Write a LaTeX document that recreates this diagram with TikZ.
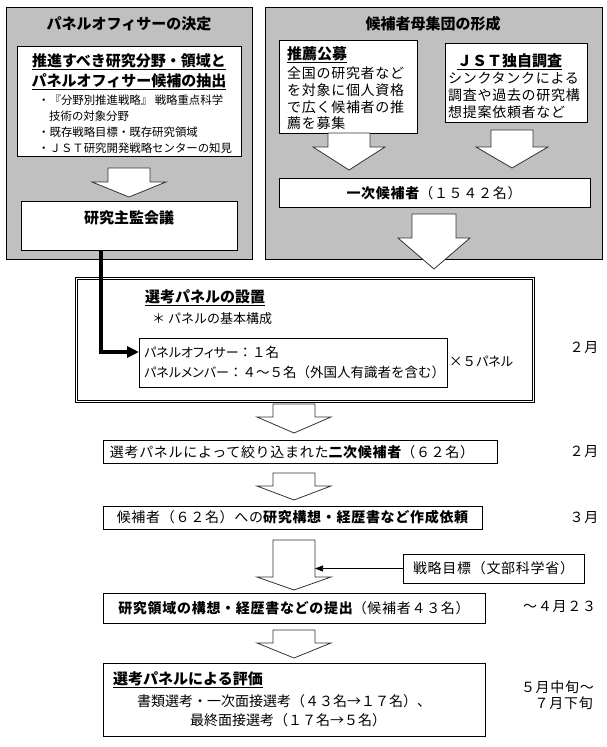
\documentclass[tikz,border=0pt]{standalone}
\usepackage{fontspec}
\setmainfont{Noto Sans CJK JP}
\usetikzlibrary{arrows.meta}
\definecolor{panelgray}{RGB}{192,192,192}
\newcommand\hollowarrow[6]{\draw[harr] (#1-#5,#2) -- (#1+#5,#2) -- (#1+#5,#3) -- (#1+#6,#3) -- (#1,#4) -- (#1-#6,#3) -- (#1-#5,#3) -- cycle;}
\newcommand\pk[1]{{\fontsize{13}{15}\selectfont\addfontfeature{RawFeature=+palt}#1}}
\tikzset{
 panel/.style={draw=black, fill=panelgray, line width=0.8pt, inner sep=0pt, outer sep=0pt},
 wbox/.style={draw=black, fill=white, line width=0.8pt, inner sep=0pt, outer sep=0pt},
 harr/.style={draw=black!80, fill=white, line width=0.8pt, line join=miter},
 txt/.style={inner sep=0pt, font=\fontsize{14}{16}\selectfont\addfontfeature{LetterSpace=5}},
 ntxt/.style={inner sep=0pt, font=\fontsize{14}{16}\selectfont},
 btxt/.style={inner sep=0pt, font=\fontsize{15}{17}\selectfont\bfseries},
 stxt/.style={inner sep=0pt, font=\fontsize{11.4}{13}\selectfont},
 ptxt/.style={inner sep=0pt, font=\fontsize{13.5}{15}\selectfont},
 conn/.style={line width=3.2pt, -{Triangle[length=12pt,width=11pt]}},
 thinconn/.style={line width=0.7pt, -{Triangle[length=8pt,width=6pt]}},
}
\begin{document}
\begin{tikzpicture}[x=1pt,y=-1pt]
\useasboundingbox (0,0) rectangle (607,747);
% left panel
\node[panel, minimum width=246, minimum height=252, anchor=north west] (lp) at (6,7) {};
\node[btxt] (lpt) at (129,24) {パネルオフィサーの決定};
\node[wbox, minimum width=224, minimum height=110, anchor=north west] (ext) at (17,46) {};
\node[btxt] (exth1) at (129,62) {\underline{推進すべき研究分野・領域と}};
\node[btxt] (exth2) at (129,82) {\underline{パネルオフィサー候補の抽出}};
\node[stxt, anchor=west] (b1) at (38,100) {・『分野別推進戦略』 戦略重点科学};
\node[stxt, anchor=west] (b1b) at (49,116) {技術の対象分野};
\node[stxt, anchor=west] (b2) at (38,132) {・既存戦略目標・既存研究領域};
\node[stxt, anchor=west] (b3) at (38,148) {・ＪＳＴ研究開発戦略センターの知見};
\hollowarrow{129}{168}{182}{197}{21}{37}
\node[wbox, minimum width=216, minimum height=49, anchor=north west] (kanshi) at (21,201) {};
\node[btxt] (kanshit) at (129,218) {研究主監会議};
% right panel
\node[panel, minimum width=337, minimum height=252, anchor=north west] (rp) at (265,7) {};
\node[btxt] (rpt) at (433,24) {候補者母集団の形成};
\node[wbox, minimum width=138, minimum height=93, anchor=north west] (suisen) at (279,40) {};
\node[btxt, anchor=west] (suisent) at (287,55) {\underline{推薦公募}};
\node[txt, anchor=west] (s1) at (287,73) {全国の研究者など};
\node[txt, anchor=west] (s2) at (287,90) {を対象に個人資格};
\node[txt, anchor=west] (s3) at (287,107) {で広く候補者の推};
\node[txt, anchor=west] (s4) at (287,123) {薦を募集};
\node[wbox, minimum width=142, minimum height=79, anchor=north west] (jst) at (445,43) {};
\node[btxt, anchor=west] (jstt) at (457,62) {\underline{ＪＳＴ独自調査}};
\node[txt, anchor=west] (j1) at (448,78) {シンクタンクによる};
\node[txt, anchor=west] (j2) at (448,95) {調査や過去の研究構};
\node[txt, anchor=west] (j3) at (448,112) {想提案依頼者など};
\hollowarrow{349}{133}{147}{170}{21}{36}
\hollowarrow{512}{130}{147}{168}{21}{36}
\node[wbox, minimum width=311, minimum height=29, anchor=north west] (ichiji) at (279,178) {};
\node[txt] (ichijit) at (434,193) {{\bfseries 一次候補者}（１５４２名）};
\hollowarrow{434}{214}{238}{269}{22}{36}
% selection panel box
\node[wbox, double, double distance=1.6pt, line width=0.8pt, minimum width=457, minimum height=123] (setbox) at (305,340) {};
\node[btxt, anchor=west] (sett) at (145,298) {\underline{選考パネルの設置}};
\node[txt, anchor=west, font=\fontsize{13}{15}\selectfont] (kihon) at (152,319) {＊ パネルの基本構成};
\node[wbox, minimum width=308, minimum height=49, anchor=north west] (inner) at (139,338) {};
\node[ptxt, anchor=west] (in1) at (144,352) {\pk{パネルオフィサー}：１名};
\node[ptxt, anchor=west] (in2) at (144,372) {\pk{パネルメンバー}：４～５名（外国人有識者を含む）};
\node[ptxt, anchor=west] (x5) at (449,362) {×５\pk{パネル}};
\node[txt] (m1) at (584,348) {２月};
\coordinate (cin) at (139,352);
\draw[conn] ([xshift=-28]kanshi.south) |- (cin);
% lower chain
\hollowarrow{294}{404}{417}{433}{21}{37}
\node[wbox, minimum width=394, minimum height=23] (box2) at (300,451.5) {};
\node[txt] (box2t) at (292,452) {選考パネルによって絞り込まれた{\bfseries 二次候補者}（６２名）};
\node[txt] (m2) at (584,452) {２月};
\hollowarrow{294}{473}{486}{500}{21}{37}
\node[wbox, minimum width=379, minimum height=23] (box3) at (292.5,517.5) {};
\node[txt] (box3t) at (box3) {候補者（６２名）への{\bfseries 研究構想・経歴書など作成依頼}};
\node[txt] (m3) at (584,518) {３月};
\hollowarrow{294}{540}{577}{590}{21}{37}
\node[wbox, minimum width=181, minimum height=29] (senryaku) at (493.5,568.5) {};
\node[txt] (senryakut) at (senryaku) {戦略目標（文部科学省）};
\coordinate (sj) at (315,568.5);
\draw[thinconn] (senryaku.west) -- (sj);
\node[wbox, minimum width=382, minimum height=30] (box4) at (294,608) {};
\node[txt] (box4t) at (box4) {{\bfseries 研究領域の構想・経歴書などの提出}（候補者４３名）};
\node[txt, anchor=west] (m4) at (523,607) {～４月２３};
\hollowarrow{294}{630}{643}{658}{21}{37}
\node[wbox, minimum width=382, minimum height=73, anchor=north west] (box5) at (103,663) {};
\node[btxt, anchor=west] (box5h) at (113,680) {\underline{選考パネルによる評価}};
\node[ntxt] (box5a) at (284,701) {書類選考・一次面接選考（４３名→１７名）、};
\node[ntxt] (box5b) at (288,720) {最終面接選考（１７名→５名）};
\node[txt, anchor=east] (m5a) at (594,687) {５月中旬～};
\node[txt, anchor=east] (m5b) at (593,703) {７月下旬};
\end{tikzpicture}
\end{document}
